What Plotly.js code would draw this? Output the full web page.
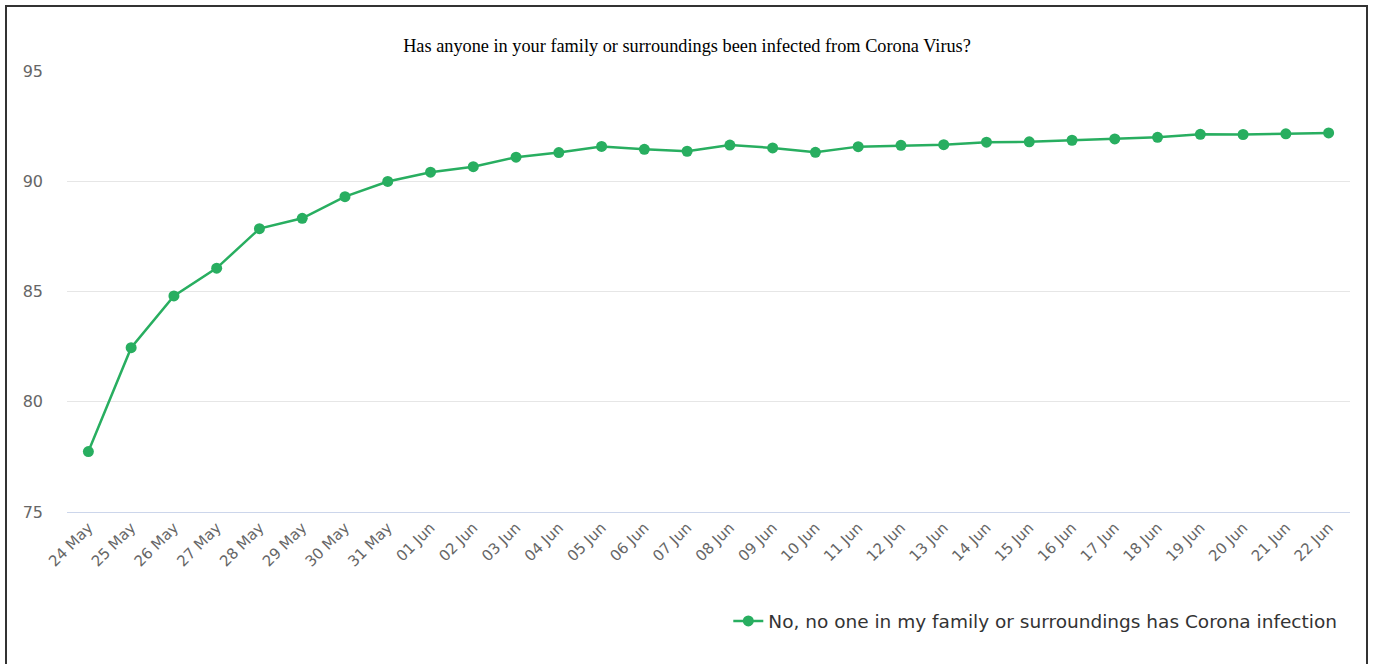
<!DOCTYPE html>
<html>
<head>
<meta charset="utf-8">
<script src="https://cdn.plot.ly/plotly-3.0.1.min.js"></script>
<style>
html,body{margin:0;padding:0;background:#fff;overflow:hidden;}
#chart{width:1374px;height:664px;}
#frame{position:absolute;left:5px;top:5px;width:1359px;height:700px;border:2px solid #333;pointer-events:none;}
</style>
</head>
<body>
<div id="chart"></div>
<div id="frame"></div>
<script>
const categories = ["24 May","25 May","26 May","27 May","28 May","29 May","30 May","31 May",
  "01 Jun","02 Jun","03 Jun","04 Jun","05 Jun","06 Jun","07 Jun","08 Jun","09 Jun","10 Jun",
  "11 Jun","12 Jun","13 Jun","14 Jun","15 Jun","16 Jun","17 Jun","18 Jun","19 Jun","20 Jun",
  "21 Jun","22 Jun"];
const noInfection = [77.74, 82.45, 84.80, 86.06, 87.85, 88.32, 89.30, 89.99,
  90.41, 90.66, 91.09, 91.30, 91.58, 91.45, 91.36, 91.64, 91.51, 91.31,
  91.57, 91.63, 91.66, 91.77, 91.79, 91.86, 91.92, 91.99, 92.13, 92.12,
  92.15, 92.19];
const seriesName = "No, no one in my family or surroundings has Corona infection";
const titleText = "Has anyone in your family or surroundings been infected from Corona Virus?";
const yTicks = [75, 80, 85, 90, 95];

const color = "rgb(40,174,96)";
const trace = {
  x: categories,
  y: noInfection,
  type: "scatter",
  mode: "lines+markers",
  name: seriesName,
  line: {color: color, width: 2.5},
  marker: {color: color, size: 11},
  showlegend: true
};

const layout = {
  width: 1374, height: 664,
  margin: {l: 67, r: 24, t: 71, b: 152},
  paper_bgcolor: "#fff", plot_bgcolor: "#fff",
  title: {text: titleText, x: 0.5, xanchor: "center", y: 0.932, yanchor: "middle",
    font: {family: "Liberation Serif, Times New Roman, serif", size: 18.3, color: "#000"}},
  xaxis: {
    type: "category", range: [-0.5, categories.length - 0.5],
    tickangle: -45, showgrid: false, zeroline: false,
    showline: true, linecolor: "#ccd6eb", linewidth: 1,
    ticks: "", tickfont: {family: "DejaVu Sans, sans-serif", size: 15, color: "#666"},
    fixedrange: true
  },
  yaxis: {
    range: [75, 95], tickvals: yTicks, ticktext: yTicks.map(String),
    showgrid: true, gridcolor: "#e6e6e6", gridwidth: 1, zeroline: false,
    showline: false, ticks: "", ticklabelstandoff: 23,
    tickfont: {family: "DejaVu Sans, sans-serif", size: 16, color: "#666"},
    fixedrange: true
  },
  legend: {
    orientation: "h", x: 0.994, xanchor: "right", y: -0.205, yanchor: "top",
    font: {family: "DejaVu Sans, sans-serif", size: 18.5, color: "#333"},
    bgcolor: "rgba(0,0,0,0)"
  },
  showlegend: true
};

Plotly.newPlot("chart", [trace], layout, {displayModeBar: false, staticPlot: true});
</script>
</body>
</html>
